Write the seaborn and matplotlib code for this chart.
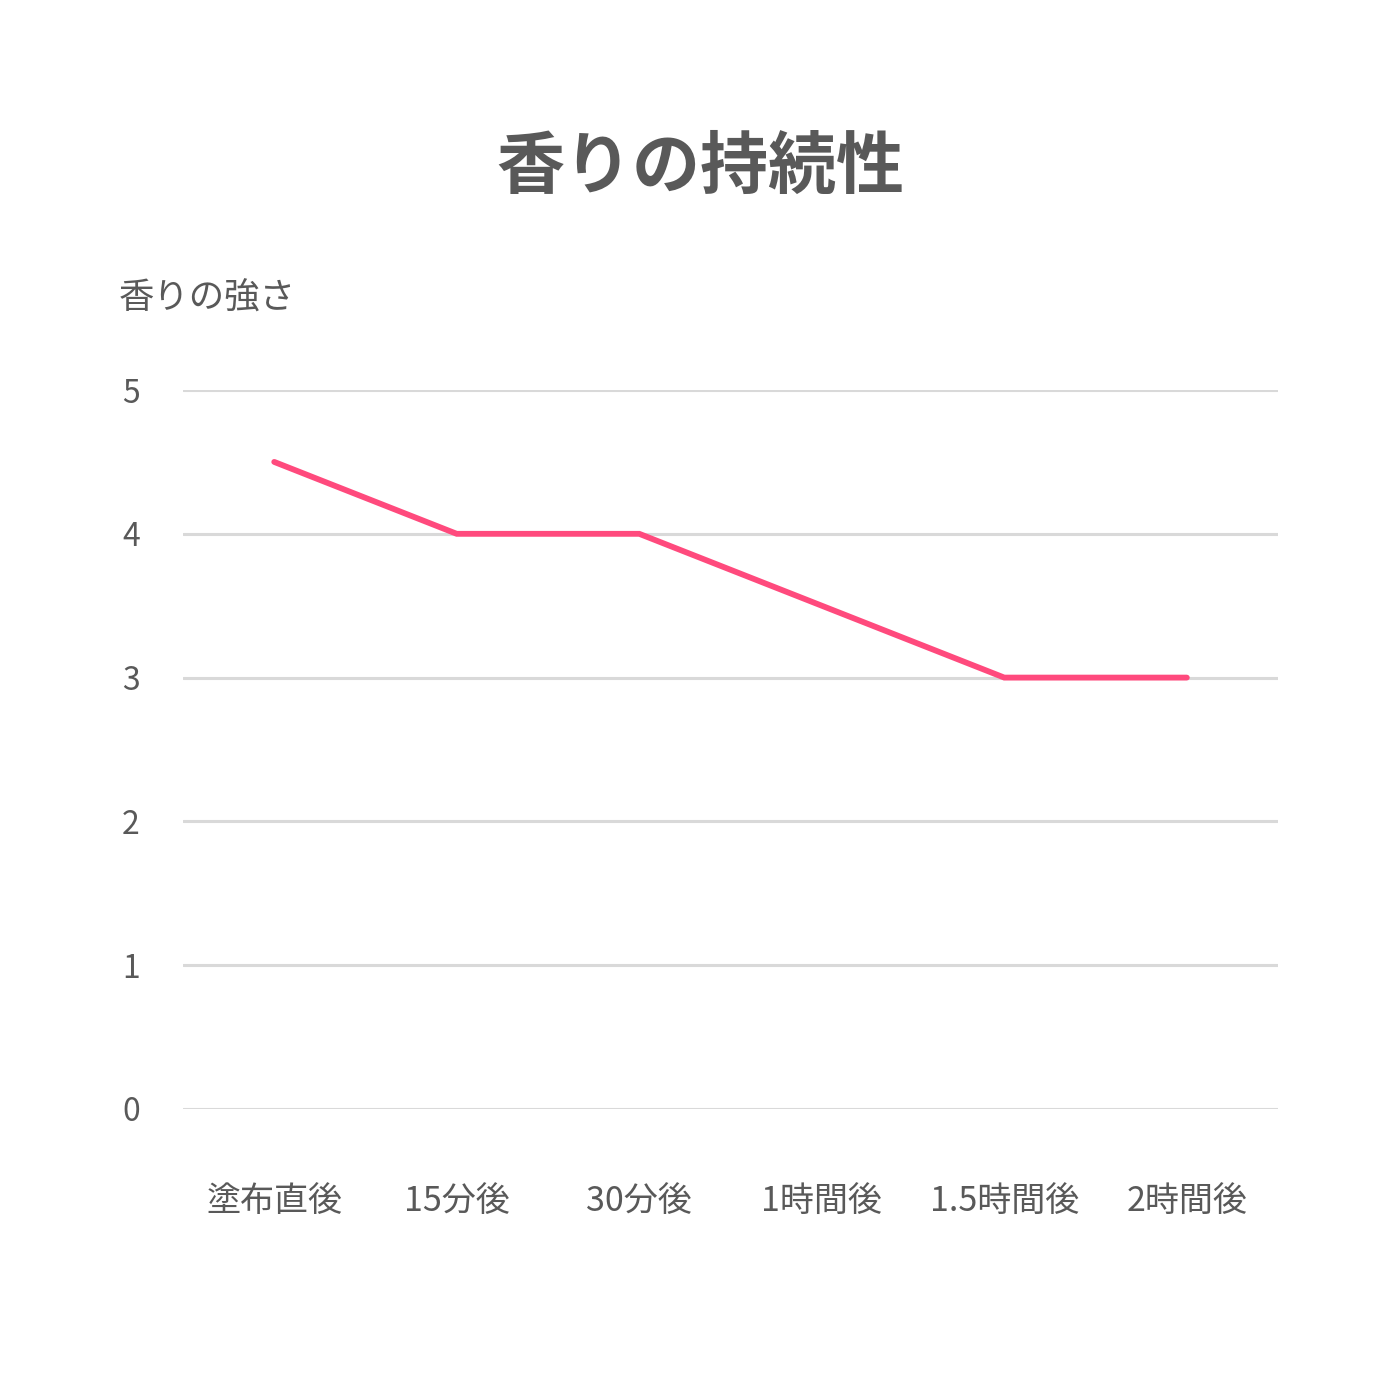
import matplotlib
matplotlib.use("Agg")
import matplotlib.pyplot as plt
import seaborn as sns
import pandas as pd

# データ
timings = ["塗布直後", "15分後", "30分後", "1時間後", "1.5時間後", "2時間後"]
intensity = [4.5, 4, 4, 3.5, 3, 3]
y_ticks = [0, 1, 2, 3, 4, 5]

sns.set_theme(style="white")
plt.rcParams["font.family"] = ["Noto Sans CJK JP", "DejaVu Sans"]

df = pd.DataFrame({"timing": timings, "intensity": intensity})

fig = plt.figure(figsize=(14, 14), dpi=100)
ax = fig.add_axes([0.1307, 0.2079, 0.7822, 0.5135])

for t in y_ticks:
    ax.axhline(t, color="#D9D9D9", linewidth=2.2, zorder=0)

sns.lineplot(data=df, x="timing", y="intensity", sort=False, ax=ax,
             color="#FF4A7D", linewidth=4.2, solid_capstyle="round",
             solid_joinstyle="miter")

ax.set_xlim(-0.5, len(timings) - 0.5)
ax.set_ylim(0, 5)
ax.set_yticks(y_ticks)
ax.set_xlabel("")
ax.set_ylabel("")
for s in ax.spines.values():
    s.set_visible(False)
ax.tick_params(axis="y", length=0, pad=31, labelsize=23, labelcolor="#595959")
ax.tick_params(axis="x", length=0, pad=54, labelsize=24.5, labelcolor="#595959")

fig.text(0.5, 0.88, "香りの持続性", ha="center", va="center",
         fontsize=49, fontweight="bold", color="#595959")
fig.text(0.085, 0.787, "香りの強さ", ha="left", va="center",
         fontsize=25.5, color="#595959")

fig.savefig("out.png", dpi=100, facecolor="white")
